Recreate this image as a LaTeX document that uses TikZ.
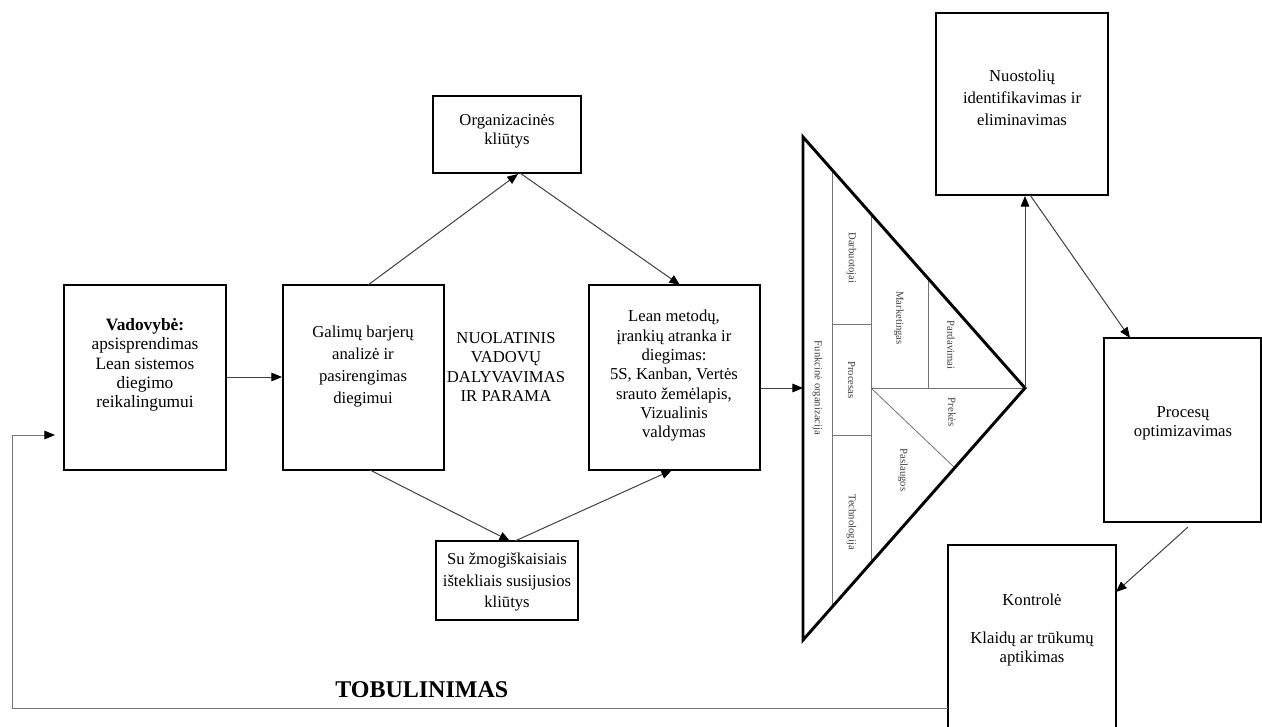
\documentclass[tikz,border=0pt]{standalone}
\usepackage{fontspec}
\setmainfont{Liberation Serif}
\usetikzlibrary{arrows.meta,fit}

\begin{document}
\begin{tikzpicture}[x=0.75pt,y=-0.75pt,
  box/.style={draw=black, line width=1.5pt, inner sep=0pt},
  txt/.style={align=center, font=\fontsize{12.5}{14.5}\selectfont, inner sep=0pt},
  link/.style={draw=black!75, line width=0.75pt, -{Triangle[length=8pt,width=6.5pt,color=black]}},
  part/.style={draw=black!55, line width=0.6pt},
  tiny/.style={font=\fontsize{8}{9}\selectfont, text=black!75, rotate=-90, inner sep=0pt}
]
\useasboundingbox (0,0) rectangle (1262,726);

% --- boxes ---
\node[box, fit={(64,285) (226,470)}] (vad) {};
\node[box, fit={(283,285) (444,470)}] (gal) {};
\node[box, fit={(589,285) (760,470)}] (lean) {};
\node[box, fit={(433,96) (581,173)}] (org) {};
\node[box, fit={(436,541) (578,620)}] (hum) {};
\node[box, fit={(936,13) (1108,195)}] (loss) {};
\node[box, fit={(1104,338) (1261,522)}] (opt) {};
\draw[line width=1.5pt] (948,730) -- (948,545) coordinate (kNW) -- (1116,545) -- (1116,730);
\coordinate (kW) at (948,708);
\coordinate (kE) at (1116,592);

% --- box texts ---
\node[txt, font=\fontsize{13}{14.5}\selectfont] at (145,365) {\textbf{Vadovybė:}\\apsisprendimas\\Lean sistemos\\diegimo\\reikalingumui};
\node[txt, font=\fontsize{12.5}{16.5}\selectfont] at (363,367) {Galimų barjerų\\analizė ir\\pasirengimas\\diegimui};
\node[txt] (nuol) at (506,367) {NUOLATINIS\\VADOVŲ\\DALYVAVIMAS\\IR PARAMA};
\node[txt] at (674,376) {Lean metodų,\\įrankių atranka ir\\diegimas:\\5S, Kanban, Vertės\\srauto žemėlapis,\\Vizualinis\\valdymas};
\node[txt] at (507,131) {Organizacinės\\kliūtys};
\node[txt, font=\fontsize{12.5}{16}\selectfont] at (507,582) {Su žmogiškaisiais\\ištekliais susijusios\\kliūtys};
\node[txt, font=\fontsize{12.5}{16.5}\selectfont] at (1022,98) {Nuostolių\\identifikavimas ir\\eliminavimas};
\node[txt] at (1183,423) {Procesų\\optimizavimas};
\node[txt] at (1032,630) {Kontrolė\\[14pt]Klaidų ar trūkumų\\aptikimas};
\node[font=\fontsize{18}{21}\selectfont\bfseries, anchor=west, inner sep=0pt] (tob) at (335,690) {TOBULINIMAS};

% --- triangle ---
\coordinate (tTop) at (803,137);
\coordinate (tBot) at (803,640);
\coordinate (tApex) at (1025,388);
\draw[part] (832,170) -- (832,608);
\draw[part] (871,214) -- (871,564);
\draw[part] (832,324) -- (871,324);
\draw[part] (832,435) -- (871,435);
\draw[part] (928,278) -- (928,388);
\draw[part] (871,388) -- (tApex);
\draw[part] (871,388) -- (955,468);
\draw[line width=2.2pt, line join=miter] (tTop) -- (tApex) -- (tBot) -- cycle;

\node[tiny] at (817.5,388) {Funkcinė organizacija};
\node[tiny] at (851.5,258) {Darbuotojai};
\node[tiny] at (851.5,380) {Procesas};
\node[tiny] at (851.5,522) {Technologija};
\node[tiny] at (899,318) {Marketingas};
\node[tiny] at (951,345) {Pardavimai};
\node[tiny] at (952,412) {Prekės};
\node[tiny] at (903,470) {Paslaugos};

% --- connectors ---
\draw[link] (vad.east |- 0,377) -- (gal.west |- 0,377);
\draw[link] (368,285) -- (518,174);
\draw[link] (520,173) -- (680,285);
\draw[link] (370,470) -- (510,541);
\draw[link] (515,541) -- (672,470);
\draw[link] (lean.east |- 0,388) -- (tTop |- 0,388);
\draw[link] (tApex) -- (tApex |- loss.south);
\draw[link] (1030,195) -- (1130,338);
\draw[link] (1188,527) -- (kE);
\draw[link, draw=black!55] (kW) -- (12,708) -- (12,435) -- (55,435);
\end{tikzpicture}
\end{document}
